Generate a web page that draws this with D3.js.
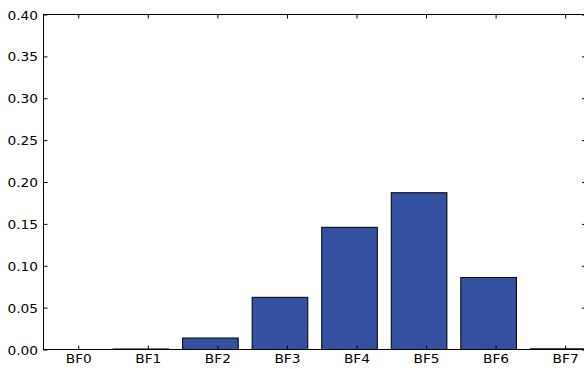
<!DOCTYPE html>
<html>
<head>
<meta charset="utf-8">
<script src="https://cdn.jsdelivr.net/npm/d3@7"></script>
<style>
html,body{margin:0;padding:0;background:#fff;overflow:hidden;}
svg{display:block;}
</style>
</head>
<body>
<svg id="chart" width="584" height="369"></svg>
<script>
const categories = ["BF0","BF1","BF2","BF3","BF4","BF5","BF6","BF7"];
const values = [0, 0.0006, 0.0137, 0.0623, 0.1459, 0.1872, 0.0860, 0.0008];
const yTicks = [0, 0.05, 0.10, 0.15, 0.20, 0.25, 0.30, 0.35, 0.40];

(function(){
const svg = d3.select("#chart");
const mLeft = 43.5, mRight = 586, mTop = 14.5, mBottom = 349.5;
const x = d3.scaleLinear().domain([0, 7.8]).range([mLeft, mRight]);
const y = d3.scaleLinear().domain([0, 0.4]).range([mBottom, mTop]);
const barW = 0.8;
const font = "DejaVu Sans, sans-serif";
const sx = 1.1;

svg.append("g").selectAll("rect").data(values).join("rect")
  .attr("x", (d,i) => x(i))
  .attr("width", (d,i) => x(i + barW) - x(i))
  .attr("y", d => y(d))
  .attr("height", d => y(0) - y(d))
  .attr("fill", "#3350a1")
  .attr("stroke", "#000")
  .attr("stroke-width", 1);

svg.append("rect").attr("x", mLeft).attr("y", mTop)
  .attr("width", mRight - mLeft).attr("height", mBottom - mTop)
  .attr("fill", "none").attr("stroke", "#000").attr("stroke-width", 1);

const tickLen = 4;
const yAxisL = d3.axisLeft(y).tickValues(yTicks).tickFormat(d3.format(".2f"))
  .tickSizeInner(-tickLen).tickSizeOuter(0).tickPadding(6);
const gL = svg.append("g").attr("transform", `translate(${mLeft},0)`).call(yAxisL);
const yAxisR = d3.axisRight(y).tickValues(yTicks).tickFormat("")
  .tickSizeInner(-tickLen).tickSizeOuter(0);
const gR = svg.append("g").attr("transform", `translate(${mRight},0)`).call(yAxisR);
const xTickVals = categories.map((c,i) => i + 0.5);
const xAxisB = d3.axisBottom(x).tickValues(xTickVals)
  .tickFormat((d,i) => categories[i])
  .tickSizeInner(-tickLen).tickSizeOuter(0);
const gB = svg.append("g").attr("transform", `translate(0,${mBottom})`).call(xAxisB);
const xAxisT = d3.axisTop(x).tickValues(xTickVals).tickFormat("")
  .tickSizeInner(-tickLen).tickSizeOuter(0);
const gT = svg.append("g").attr("transform", `translate(0,${mTop})`).call(xAxisT);

[gL, gR, gB, gT].forEach(g => {
  g.select(".domain").remove();
  g.selectAll(".tick line").attr("stroke", "#000");
  g.selectAll("text").attr("font-family", font).attr("font-size", "12.5px").attr("fill", "#000");
});
gL.selectAll(".tick text").attr("x", 0).attr("dy", "0.36em")
  .attr("transform", `translate(-5.5,0) scale(${sx},1)`);
gB.selectAll(".tick text").attr("y", 0).attr("dy", 0)
  .attr("transform", `translate(0,13.9) scale(${sx},1)`);
})();
</script>
</body>
</html>
